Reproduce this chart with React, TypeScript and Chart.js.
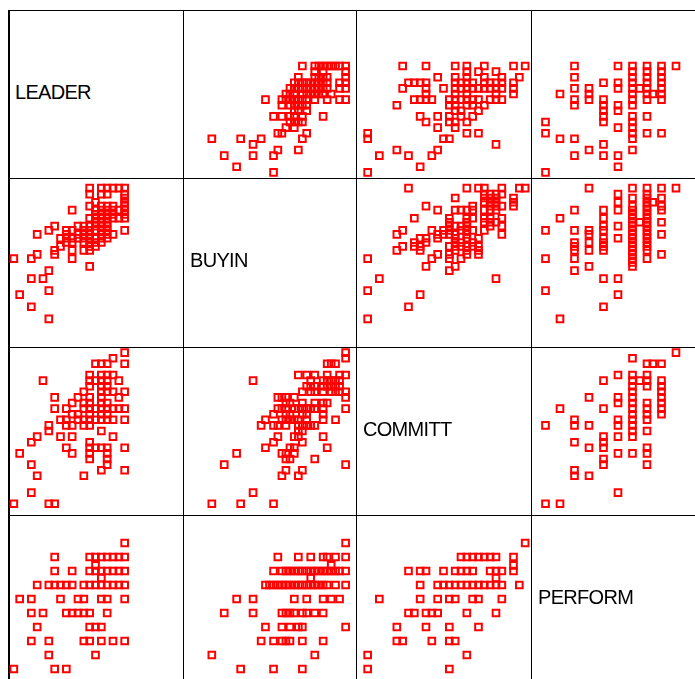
import React, { useEffect, useRef } from "react";
import { Chart, registerables } from "chart.js";

Chart.register(...registerables);

// ---------------- DATA ----------------
const VARIABLES = ["LEADER", "BUYIN", "COMMITT", "PERFORM"];
const AXIS_MIN = 1;
const AXIS_MAX = 7;

// Each group: [value of the grouping variable, values of the other variable]
// BUYIN (x) vs LEADER (y), grouped by LEADER
const BUYIN_LEADER: [number, number[]][] = [
  [5.0, [5.14, 5.57, 5.71, 5.86, 6.0, 6.14, 6.29, 6.43, 6.64]],
  [4.8, [5.57, 5.86, 6.64]],
  [4.6, [5.0, 5.57, 5.71, 5.86, 6.0, 6.64]],
  [4.4, [4.86, 5.0, 5.14, 5.29, 5.43, 5.57, 5.71, 5.86, 6.0, 6.43, 6.64]],
  [4.2, [4.71, 4.86, 5.0, 5.14, 5.29, 5.43, 5.57, 5.71, 5.86, 6.0, 6.43, 6.64]],
  [4.0, [4.57, 4.71, 4.86, 5.14, 5.29, 5.43, 5.57, 5.71, 5.86, 6.14]],
  [3.8, [3.86, 4.43, 4.57, 4.71, 4.86, 5.0, 5.14, 5.29, 5.57, 6.0, 6.43, 6.64]],
  [3.6, [4.43, 4.71, 4.86, 5.0, 5.14, 5.29]],
  [3.4, [4.86, 5.0, 5.29]],
  [3.2, [4.14, 4.43, 4.71, 4.86, 5.14, 5.86]],
  [3.0, [4.71, 4.86, 5.0, 5.14]],
  [2.8, [4.57, 4.86]],
  [2.6, [4.29, 4.43, 5.29]],
  [2.4, [2.0, 3.0, 3.71, 5.14]],
  [2.2, [3.43]],
  [2.0, [4.29, 5.0]],
  [1.8, [2.43, 3.43, 4.14]],
  [1.4, [2.86]],
  [1.2, [4.14]],
];

// COMMITT (x) vs LEADER (y), grouped by LEADER
const COMMITT_LEADER: [number, number[]][] = [
  [5.0, [2.6, 3.4, 4.4, 4.8, 5.4, 6.4, 6.8]],
  [4.8, [4.8, 5.2, 5.8]],
  [4.6, [3.8, 4.4, 4.8, 5.4, 6.0, 6.6]],
  [4.4, [2.8, 3.0, 3.2, 3.4, 4.4, 4.6, 4.8, 5.0, 5.4, 5.6, 5.8, 6.0, 6.4]],
  [4.2, [2.6, 3.4, 4.0, 4.4, 4.6, 4.8, 5.0, 5.2, 5.4, 5.6, 5.8, 6.0, 6.4]],
  [4.0, [3.4, 4.4, 4.8, 5.8, 6.4]],
  [3.8, [3.0, 3.2, 3.4, 3.6, 4.2, 4.4, 4.6, 4.8, 5.0, 5.2, 5.6, 5.8, 6.0]],
  [3.6, [2.4, 4.2, 4.4, 4.8, 5.0, 5.4]],
  [3.4, [4.4, 4.6, 5.2]],
  [3.2, [3.2, 3.8, 4.2, 4.6, 5.0]],
  [3.0, [3.4, 4.2, 4.4, 4.8]],
  [2.8, [3.8, 4.4]],
  [2.6, [1.4, 4.8, 5.2]],
  [2.4, [1.4, 4.0, 4.2]],
  [2.2, [5.8]],
  [2.0, [2.4, 3.8]],
  [1.8, [1.8, 2.8, 3.6]],
  [1.4, [3.2]],
  [1.2, [1.4]],
];

// PERFORM (x) vs LEADER (y), grouped by PERFORM
const PERFORM_LEADER: [number, number[]][] = [
  [1.5, [1.2, 2.6, 3.0]],
  [2.0, [2.4, 4.0]],
  [2.5, [1.8, 2.4, 3.6, 3.8, 4.2, 4.6, 5.0]],
  [3.0, [2.0, 3.8, 4.0, 4.2]],
  [3.5, [1.8, 2.2, 3.0, 3.2, 3.4, 3.6, 3.8, 4.4]],
  [4.0, [1.4, 1.8, 2.8, 3.4, 3.6, 4.2, 4.4, 5.0]],
  [4.5, [2.0, 2.4, 2.6, 2.8, 3.0, 3.2, 3.6, 3.8, 4.0, 4.2, 4.4, 4.6, 4.8, 5.0]],
  [4.75, [4.2]],
  [5.0, [2.6, 3.2, 3.8, 4.0, 4.2, 4.4, 4.6, 4.8, 5.0]],
  [5.2, [4.0]],
  [5.5, [2.6, 3.8, 4.0, 4.2, 4.4, 4.6, 4.8, 5.0]],
  [6.0, [5.0]],
];

// COMMITT (x) vs BUYIN (y), grouped by BUYIN
const COMMITT_BUYIN: [number, number[]][] = [
  [6.64, [2.8, 4.8, 5.2, 5.4, 6.0, 6.6, 6.8]],
  [6.43, [5.4, 5.6, 5.8, 6.0]],
  [6.29, [4.4, 5.4, 5.6, 5.8, 6.4]],
  [6.14, [5.4, 5.6, 5.8, 6.4]],
  [6.0, [3.4, 5.0, 5.6, 5.8, 6.0, 6.4]],
  [5.86, [3.8, 4.4, 4.6, 4.8, 5.0, 5.4, 5.6, 5.8]],
  [5.57, [3.0, 4.2, 4.8, 5.0, 5.4, 5.6, 6.0]],
  [5.43, [4.2, 4.8, 5.4, 5.6, 5.8]],
  [5.29, [4.2, 4.4, 4.6, 4.8, 5.6, 6.0]],
  [5.14, [2.6, 3.6, 4.0, 4.2, 4.6, 4.8, 5.0, 5.4]],
  [5.0, [2.4, 3.8, 4.0, 4.2, 4.4, 4.8, 6.0]],
  [4.86, [3.2, 3.4, 3.8, 4.4, 4.8, 5.2]],
  [4.71, [3.0, 3.4, 4.4, 4.6, 5.0]],
  [4.57, [2.6, 3.0, 3.2, 4.2, 4.4, 4.6, 4.8, 5.0, 5.2]],
  [4.43, [2.4, 3.2, 4.4, 4.8, 5.2]],
  [4.29, [3.8, 4.2, 4.8, 5.2]],
  [4.14, [1.4, 3.6, 4.2, 4.6]],
  [3.86, [3.4, 4.4]],
  [3.71, [4.2]],
  [3.43, [1.8, 5.8]],
  [3.0, [1.4]],
  [2.86, [3.2]],
  [2.43, [2.8]],
  [2.0, [1.4]],
];

// PERFORM (x) vs BUYIN (y), grouped by PERFORM
const PERFORM_BUYIN: [number, number[]][] = [
  [1.5, [3.0, 4.14, 5.14]],
  [2.0, [2.0, 5.57]],
  [2.5, [3.71, 4.14, 4.43, 4.57, 4.71, 5.14, 5.86]],
  [3.0, [3.86, 4.43, 4.71, 5.0, 5.14, 6.64]],
  [3.5, [2.43, 3.43, 4.43, 4.57, 4.71, 4.86, 5.14, 5.29, 5.57, 5.86]],
  [4.0, [2.86, 3.43, 4.86, 5.29, 5.86, 6.14, 6.43]],
  [4.5, [3.86, 4.0, 4.14, 4.29, 4.43, 4.57, 4.71, 4.86, 5.0, 5.14, 5.29, 5.43, 5.57, 5.71, 5.86, 6.0, 6.29, 6.64]],
  [4.75, [5.43]],
  [5.0, [4.14, 4.43, 4.57, 4.71, 4.86, 5.0, 5.14, 5.29, 5.43, 5.57, 5.71, 5.86, 6.0, 6.14, 6.29, 6.43, 6.64]],
  [5.2, [6.14]],
  [5.5, [4.29, 5.0, 5.43, 5.86, 6.0, 6.29, 6.64]],
  [6.0, [6.64]],
];

// PERFORM (x) vs COMMITT (y), grouped by PERFORM
const PERFORM_COMMITT: [number, number[]][] = [
  [1.5, [1.4, 4.2]],
  [2.0, [1.4, 4.8]],
  [2.5, [2.4, 2.6, 3.6, 4.2, 4.4]],
  [3.0, [2.4, 3.4, 4.2, 5.2]],
  [3.5, [2.8, 3.0, 3.4, 3.6, 3.8, 4.8, 5.8]],
  [4.0, [1.8, 3.2, 3.8, 4.2, 4.4, 5.0, 5.2, 6.0]],
  [4.5, [3.2, 3.8, 4.0, 4.2, 4.4, 4.6, 4.8, 5.0, 5.2, 5.4, 5.6, 5.8, 6.0, 6.6]],
  [4.75, [5.8]],
  [5.0, [2.8, 3.2, 3.4, 4.0, 4.4, 4.6, 4.8, 5.0, 5.6, 5.8, 6.0, 6.4]],
  [5.2, [6.4]],
  [5.5, [4.6, 4.8, 5.0, 5.2, 5.4, 5.6, 5.8, 6.4]],
  [6.0, [6.8]],
];

type Pair = { xVar: string; yVar: string; groupBy: "x" | "y"; groups: [number, number[]][] };

const PAIRS: Pair[] = [
  { xVar: "BUYIN", yVar: "LEADER", groupBy: "y", groups: BUYIN_LEADER },
  { xVar: "COMMITT", yVar: "LEADER", groupBy: "y", groups: COMMITT_LEADER },
  { xVar: "PERFORM", yVar: "LEADER", groupBy: "x", groups: PERFORM_LEADER },
  { xVar: "COMMITT", yVar: "BUYIN", groupBy: "y", groups: COMMITT_BUYIN },
  { xVar: "PERFORM", yVar: "BUYIN", groupBy: "x", groups: PERFORM_BUYIN },
  { xVar: "PERFORM", yVar: "COMMITT", groupBy: "x", groups: PERFORM_COMMITT },
];

function pairPoints(p: Pair) {
  const pts: { x: number; y: number }[] = [];
  p.groups.forEach(([k, vals]) => {
    vals.forEach((v) => {
      pts.push(p.groupBy === "y" ? { x: v, y: k } : { x: k, y: v });
    });
  });
  return pts;
}

function pointsFor(xVar: string, yVar: string) {
  const direct = PAIRS.find((p) => p.xVar === xVar && p.yVar === yVar);
  if (direct) return pairPoints(direct);
  const rev = PAIRS.find((p) => p.xVar === yVar && p.yVar === xVar);
  if (rev) return pairPoints(rev).map((q) => ({ x: q.y, y: q.x }));
  return [];
}

// ---------------- LAYOUT ----------------
const COL_EDGES = [8, 183, 356, 531, 705];
const ROW_EDGES = [10, 178, 347, 515, 683];
const PAD = 8;

function ScatterPanel(props: { xVar: string; yVar: string; left: number; top: number; width: number; height: number }) {
  const ref = useRef<HTMLCanvasElement | null>(null);
  const { xVar, yVar, left, top, width, height } = props;
  useEffect(() => {
    if (!ref.current) return;
    const chart = new Chart(ref.current, {
      type: "scatter",
      data: {
        datasets: [
          {
            data: pointsFor(xVar, yVar),
            pointStyle: "rect",
            pointRadius: 4.7,
            pointHoverRadius: 4.7,
            pointBorderWidth: 2,
            pointBorderColor: "#ff0000",
            pointBackgroundColor: "rgba(0,0,0,0)",
            clip: false as any,
          },
        ],
      },
      options: {
        animation: false,
        responsive: false,
        maintainAspectRatio: false,
        events: [],
        layout: { padding: PAD },
        plugins: { legend: { display: false }, tooltip: { enabled: false } },
        scales: {
          x: { type: "linear", min: AXIS_MIN, max: AXIS_MAX, display: false },
          y: { type: "linear", min: AXIS_MIN, max: AXIS_MAX, display: false },
        },
      },
    });
    return () => chart.destroy();
  }, [xVar, yVar]);
  const w = width + 2 * PAD;
  const h = height + 2 * PAD;
  return (
    <canvas
      ref={ref}
      width={w}
      height={h}
      style={{ position: "absolute", left: left - PAD, top: top - PAD, width: w, height: h }}
    />
  );
}

export default function App() {
  const lines: React.ReactNode[] = [];
  COL_EDGES.forEach((x, i) =>
    lines.push(
      <div key={"v" + i} style={{ position: "absolute", left: x, top: ROW_EDGES[0], width: i === 0 ? 2 : 1, height: ROW_EDGES[4] - ROW_EDGES[0] + 1, background: "#000" }} />
    )
  );
  ROW_EDGES.forEach((y, i) =>
    lines.push(
      <div key={"h" + i} style={{ position: "absolute", left: COL_EDGES[0], top: y, width: COL_EDGES[4] - COL_EDGES[0] + 1, height: 1, background: "#000" }} />
    )
  );

  const cells: React.ReactNode[] = [];
  for (let r = 0; r < 4; r++) {
    for (let c = 0; c < 4; c++) {
      const left = COL_EDGES[c];
      const top = ROW_EDGES[r];
      const width = COL_EDGES[c + 1] - left;
      const height = ROW_EDGES[r + 1] - top;
      if (r === c) {
        cells.push(
          <div
            key={`l${r}`}
            style={{
              position: "absolute",
              left: left + 7,
              top,
              height,
              display: "flex",
              alignItems: "center",
              paddingBottom: 5,
              boxSizing: "border-box",
              fontFamily: '"Liberation Sans", Arial, sans-serif',
              fontSize: 20,
              letterSpacing: -0.7,
              color: "#000",
              lineHeight: 1,
            }}
          >
            {VARIABLES[r]}
          </div>
        );
      } else {
        cells.push(
          <ScatterPanel key={`p${r}${c}`} xVar={VARIABLES[c]} yVar={VARIABLES[r]} left={left} top={top} width={width} height={height} />
        );
      }
    }
  }

  return (
    <div style={{ position: "fixed", left: 0, top: 0, width: 695, height: 679, overflow: "hidden", background: "#fff" }}>
      {lines}
      {cells}
    </div>
  );
}
